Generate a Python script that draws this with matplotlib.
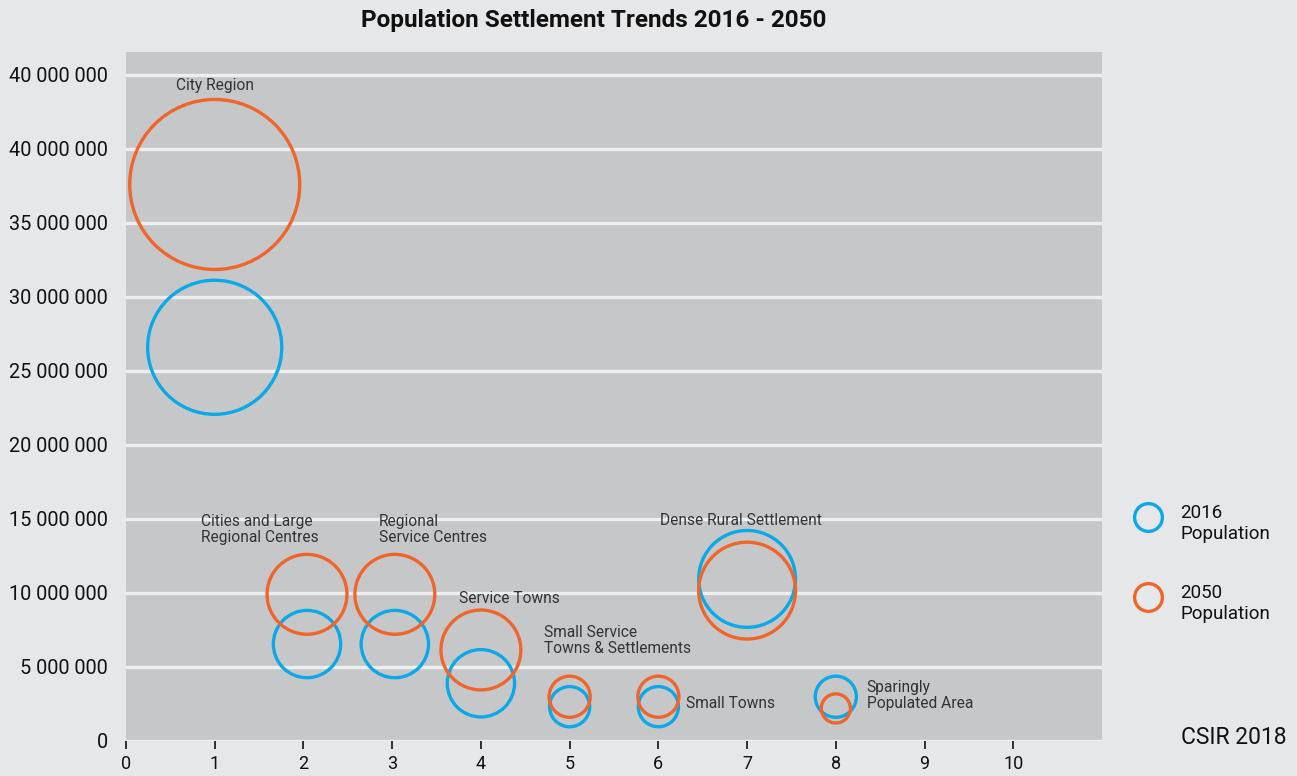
import matplotlib
matplotlib.use("Agg")
import matplotlib.pyplot as plt
from matplotlib.lines import Line2D

plt.rcParams['font.family'] = ['Roboto', 'DejaVu Sans']

# ---- data ----
categories = ["City Region", "Cities and Large\nRegional Centres", "Regional\nService Centres",
              "Service Towns", "Small Service\nTowns & Settlements", "Small Towns",
              "Dense Rural Settlement", "Sparingly\nPopulated Area"]
x_pos = [1, 2.04, 3.03, 4, 5, 6, 7, 8]
pop_2016 = [26.6e6, 6.55e6, 6.55e6, 3.9e6, 2.32e6, 2.32e6, 10.95e6, 2.99e6]
pop_2050 = [37.6e6, 9.91e6, 9.91e6, 6.15e6, 2.99e6, 2.99e6, 10.16e6, 2.2e6]
# bubble magnitudes (millions)
bubble_2016 = [23.4, 5.9, 5.9, 5.9, 2.1, 2.1, 12.2, 2.2]
bubble_2050 = [37.6, 8.3, 8.3, 8.3, 2.2, 2.2, 12.2, 1.1]
y_ticks = [0, 5e6, 10e6, 15e6, 20e6, 25e6, 30e6, 35e6, 40e6, 45e6]
y_tick_labels = ["0", "5 000 000", "10 000 000", "15 000 000", "20 000 000", "25 000 000",
                 "30 000 000", "35 000 000", "40 000 000", "40 000 000"]
x_ticks = list(range(0, 11))
legend_labels = ["2016\nPopulation", "2050\nPopulation"]

# label anchor positions (data coords)
label_x = [1, 0.84, 2.85, 3.75, 4.71, 6.31, 6.02, 8.35]
label_y = [44.3e6, 14.3e6, 14.3e6, 9.6e6, 6.8e6, 2.55e6, 14.9e6, 3.05e6]
label_ha = ["center", "left", "left", "left", "left", "left", "left", "left"]

BLUE = "#0AA8E6"
ORANGE = "#F0652A"
FIG_BG = "#E6E7E9"
AX_BG = "#C6C7C9"
GRID = "#EDEEF0"
TXT = "#111111"

W, H = 1297, 776
fig = plt.figure(figsize=(W / 100, H / 100), dpi=100, facecolor=FIG_BG)
ax = fig.add_axes([126 / W, 1 - 741 / H, (1102 - 126) / W, (741 - 52) / H])
ax.set_facecolor(AX_BG)

k = 398.5  # points^2 per million
ax.scatter(x_pos, pop_2016, s=[b * k for b in bubble_2016], facecolors="none",
           edgecolors=BLUE, linewidths=2.4, zorder=3, clip_on=False)
ax.scatter(x_pos, pop_2050, s=[b * k for b in bubble_2050], facecolors="none",
           edgecolors=ORANGE, linewidths=2.4, zorder=4, clip_on=False)

for name, lx, ly, ha in zip(categories, label_x, label_y, label_ha):
    ax.text(lx, ly, name, ha=ha, va="center", fontsize=11.2, color="#333333",
            linespacing=1.1, zorder=5)

ax.set_xlim(0, 11)
ax.set_ylim(0, 46.55e6)
ax.set_xticks(x_ticks)
ax.set_xticklabels([str(t) for t in x_ticks], fontsize=13, color=TXT)
ax.set_yticks(y_ticks)
ax.set_yticklabels(y_tick_labels, fontsize=14.3, color=TXT)
ax.tick_params(axis="y", length=0, pad=13)
ax.tick_params(axis="x", length=6, width=1.2, color=TXT, pad=4)
for s in ax.spines.values():
    s.set_visible(False)
ax.grid(axis="y", color=GRID, linewidth=2.4, zorder=1)
ax.grid(axis="x", visible=False)
ax.set_axisbelow(True)

fig.text(594 / W, 1 - 21 / H, "Population Settlement Trends 2016 - 2050", ha="center", va="center",
         fontsize=17.5, fontweight="bold", color=TXT)

# manual legend
leg_y = [517, 597]
for col, lab, ly in zip([BLUE, ORANGE], legend_labels, leg_y):
    fig.add_artist(Line2D([1148 / W], [1 - ly / H], transform=fig.transFigure, marker="o",
                          linestyle="none", markersize=20, markerfacecolor="none",
                          markeredgecolor=col, markeredgewidth=2.4))
    fig.text(1180 / W, 1 - (ly + 6.5) / H, lab, ha="left", va="center", fontsize=13.5,
             color=TXT, linespacing=1.2)

fig.text(1287 / W, 1 - 737 / H, "CSIR 2018", ha="right", va="center", fontsize=16.5, color=TXT)

fig.savefig("out.png", dpi=100, facecolor=FIG_BG)
